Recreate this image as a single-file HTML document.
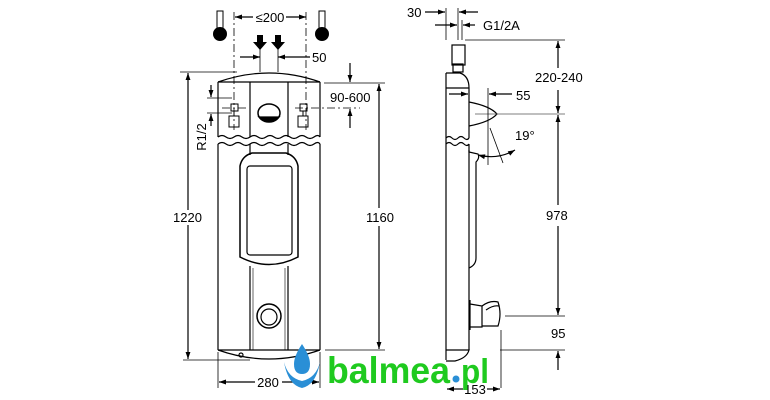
<!DOCTYPE html>
<html><head><meta charset="utf-8"><style>html,body{margin:0;padding:0;background:#fff}svg{display:block}</style></head>
<body>
<svg width="770" height="400" viewBox="0 0 770 400" xmlns="http://www.w3.org/2000/svg" font-family="Liberation Sans, Arial, sans-serif">
<defs>
<marker id="a" viewBox="0 0 10 10" refX="10" refY="5" markerWidth="9" markerHeight="7" orient="auto-start-reverse" markerUnits="userSpaceOnUse"><path d="M0,1.5 L10,5 L0,8.5 z" fill="#000"/></marker>
</defs>
<g fill="none" stroke="#000" stroke-width="1.2">
<!-- FRONT VIEW -->
<path d="M218,82 Q269,64 320,82"/>
<line x1="218" y1="82" x2="320" y2="82"/>
<line x1="218" y1="82" x2="218" y2="137"/><line x1="320" y1="82" x2="320" y2="137"/>
<line x1="250" y1="82" x2="250" y2="137"/><line x1="288" y1="82" x2="288" y2="137"/>
<path d="M218,137 q4,-3 8,0 t8,0 t8,0 t8,0 t8,0 t8,0 t8,0 t8,0 t8,0 t8,0 t8,0 t8,0 t6,0"/>
<path d="M218,144 q4,-3 8,0 t8,0 t8,0 t8,0 t8,0 t8,0 t8,0 t8,0 t8,0 t8,0 t8,0 t8,0 t6,0"/>
<line x1="218" y1="144" x2="218" y2="350"/><line x1="320" y1="144" x2="320" y2="350"/>
<line x1="250" y1="144" x2="250" y2="155"/><line x1="288" y1="144" x2="288" y2="155"/>
<path d="M240,166 Q242,156 252,153 L286,153 Q296,156 298,166 L298,257 Q269,272 240,257 Z" stroke-width="1.5"/>
<rect x="247" y="166" width="45" height="89" rx="3"/>
<line x1="250" y1="266" x2="250" y2="350"/><line x1="288" y1="266" x2="288" y2="350"/>
<line x1="253" y1="268" x2="253" y2="350" stroke-width="0.6"/><line x1="285" y1="268" x2="285" y2="350" stroke-width="0.6"/>
<circle cx="269" cy="316" r="12" stroke-width="1.5"/><circle cx="269" cy="317" r="8"/>
<line x1="218" y1="350" x2="320" y2="350"/>
<path d="M218,350 Q269,368 320,350"/>
<circle cx="241" cy="355" r="2"/>
<ellipse cx="269" cy="113" rx="11" ry="9" stroke-width="1.5"/>
<path d="M259,117 Q269,125 279,117 Z" fill="#000"/>
<g stroke-width="1">
<rect x="231" y="104" width="7" height="7"/><rect x="229" y="116" width="10" height="11"/>
<rect x="300" y="104" width="7" height="7"/><rect x="298" y="116" width="10" height="11"/>
<line x1="234" y1="111" x2="234" y2="116"/><line x1="303" y1="111" x2="303" y2="116"/>
</g>
<g stroke-width="0.8" stroke-dasharray="8,3,2,3">
<line x1="234" y1="12" x2="234" y2="130"/><line x1="306" y1="12" x2="306" y2="130"/>
<line x1="222" y1="108" x2="247" y2="108"/><line x1="295" y1="108" x2="360" y2="108"/>
</g>
<line x1="180" y1="72" x2="237" y2="72" stroke-width="0.8"/>
<line x1="183" y1="360" x2="250" y2="360" stroke-width="0.8"/>
<line x1="188" y1="73" x2="188" y2="210" marker-start="url(#a)"/><line x1="188" y1="225" x2="188" y2="359" marker-end="url(#a)"/>
<line x1="324" y1="83" x2="385" y2="83" stroke-width="0.8"/>
<line x1="325" y1="350" x2="385" y2="350" stroke-width="0.8"/>
<line x1="379" y1="84" x2="379" y2="208" marker-start="url(#a)"/><line x1="379" y1="226" x2="379" y2="349" marker-end="url(#a)"/>
<line x1="235" y1="17" x2="253" y2="17" marker-start="url(#a)"/><line x1="286" y1="17" x2="306" y2="17" marker-end="url(#a)"/>
<line x1="260" y1="48" x2="260" y2="72" stroke-width="0.8"/><line x1="278" y1="48" x2="278" y2="72" stroke-width="0.8"/>
<line x1="240" y1="57" x2="260" y2="57" marker-end="url(#a)"/><line x1="310" y1="57" x2="278" y2="57" marker-end="url(#a)"/>
<line x1="350" y1="63" x2="350" y2="82" marker-end="url(#a)"/><line x1="350" y1="128" x2="350" y2="109" marker-end="url(#a)"/>
<line x1="207" y1="98" x2="232" y2="98" stroke-width="0.8"/><line x1="207" y1="113" x2="232" y2="113" stroke-width="0.8"/>
<line x1="211" y1="85" x2="211" y2="97" marker-end="url(#a)"/><line x1="211" y1="126" x2="211" y2="114" marker-end="url(#a)"/>
<line x1="218" y1="352" x2="218" y2="388" stroke-width="0.8"/><line x1="320" y1="352" x2="320" y2="388" stroke-width="0.8"/>
<line x1="219" y1="382" x2="255" y2="382" marker-start="url(#a)"/><line x1="282" y1="382" x2="319" y2="382" marker-end="url(#a)"/>

<!-- SIDE VIEW -->
<line x1="446" y1="73" x2="446" y2="360"/>
<path d="M446,73 L460,73 Q469,76 469,88 L469,138"/>
<line x1="446" y1="88" x2="469" y2="88"/>
<path d="M446,138 q3,-3 6,0 t6,0 t6,0 t5,0"/><path d="M446,144 q3,-3 6,0 t6,0 t6,0 t5,0"/>
<path d="M469,144 L469,152 L478,154 Q480,158 476,162 L476,258 Q476,265 469,268"/>
<line x1="469" y1="150" x2="469" y2="350"/>
<path d="M446,350 L469,350 Q467,358 455,361 L446,361"/>
<rect x="452" y="45" width="13" height="20"/><rect x="453" y="64" width="10" height="8"/>
<path d="M469,102 Q490,106 497,114 Q490,122 469,126" stroke-width="1.3"/>
<path d="M470,300 L470,330 M470,304 L482,306 L482,327 L470,327"/>
<path d="M482,306 Q490,300 498,302 Q502,314 498,326 L482,326"/>
<path d="M486,310 Q493,305 499,306"/>
<line x1="446" y1="8" x2="446" y2="40" stroke-width="0.8"/><line x1="458" y1="8" x2="458" y2="40" stroke-width="0.8"/><line x1="462" y1="20" x2="462" y2="40" stroke-width="0.8"/>
<line x1="425" y1="12" x2="445" y2="12" marker-end="url(#a)"/><line x1="478" y1="12" x2="459" y2="12" marker-end="url(#a)"/>
<line x1="435" y1="25" x2="457" y2="25" marker-end="url(#a)"/><line x1="475" y1="25" x2="463" y2="25" marker-end="url(#a)"/>
<line x1="465" y1="40" x2="565" y2="40" stroke-width="0.8"/>
<line x1="475" y1="114" x2="565" y2="114" stroke-width="0.7" stroke="#555"/>
<line x1="505" y1="316" x2="565" y2="316" stroke-width="0.8"/>
<line x1="500" y1="350" x2="565" y2="350" stroke-width="0.8"/>
<line x1="558" y1="41" x2="558" y2="68" marker-start="url(#a)"/><line x1="558" y1="90" x2="558" y2="113" marker-end="url(#a)"/>
<line x1="558" y1="115" x2="558" y2="205" marker-start="url(#a)"/><line x1="558" y1="226" x2="558" y2="315" marker-end="url(#a)"/>
<line x1="558" y1="370" x2="558" y2="351" marker-end="url(#a)"/>
<line x1="488" y1="88" x2="488" y2="165" stroke-width="0.8"/>
<line x1="512" y1="94" x2="489" y2="94" marker-end="url(#a)"/>
<line x1="449" y1="94" x2="468" y2="94" marker-end="url(#a)"/>
<line x1="490" y1="128" x2="503" y2="163" stroke-width="0.8"/>
<path d="M478,155 Q498,160 515,150" marker-start="url(#a)" marker-end="url(#a)"/>
<line x1="501" y1="330" x2="501" y2="388" stroke-width="0.8"/>
<line x1="447" y1="389" x2="463" y2="389" marker-start="url(#a)"/><line x1="487" y1="389" x2="500" y2="389" marker-end="url(#a)"/>
</g>
<g>
<rect x="217" y="11" width="6" height="18" fill="#fff" stroke="#000" stroke-width="1"/><circle cx="220" cy="34" r="7" fill="#000"/>
<rect x="319" y="11" width="6" height="18" fill="#fff" stroke="#000" stroke-width="1"/><circle cx="322" cy="34" r="7" fill="#000"/>
<path d="M257,35 h6 v7 h4 l-7,8 l-7,-8 h4z M275,35 h6 v7 h4 l-7,8 l-7,-8 h4z" fill="#000"/>
</g>
<g font-size="13" fill="#000">
<text x="270" y="22" text-anchor="middle">≤200</text>
<text x="312" y="62">50</text>
<text x="330" y="102">90-600</text>
<text x="206" y="137" transform="rotate(-90 206 137)" text-anchor="middle">R1/2</text>
<text x="173" y="222">1220</text>
<text x="366" y="222">1160</text>
<text x="268" y="387" text-anchor="middle">280</text>
<text x="407" y="17">30</text>
<text x="483" y="30">G1/2A</text>
<text x="535" y="82">220-240</text>
<text x="516" y="100">55</text>
<text x="515" y="140">19°</text>
<text x="546" y="220">978</text>
<text x="551" y="338">95</text>
<text x="475" y="394" text-anchor="middle">153</text>
</g>
<g>
<path d="M302,344 Q294,356 294,364 Q294,374 302,374 Q310,374 310,364 Q310,356 302,344z" fill="#2a8fd6"/>
<path d="M284,362 Q288,385 302,388 Q316,385 320,362 Q316,378 302,381 Q288,378 284,362z" fill="#2a8fd6"/>
<text x="327" y="383" font-size="37" font-weight="bold" fill="#1fca1f" textLength="123" lengthAdjust="spacingAndGlyphs">balmea</text>
<circle cx="456" cy="379" r="3.5" fill="#2a8fd6"/>
<text x="461" y="383" font-size="34" font-weight="bold" fill="#1fca1f" textLength="28" lengthAdjust="spacingAndGlyphs">pl</text>
</g>
</svg>
</body></html>
